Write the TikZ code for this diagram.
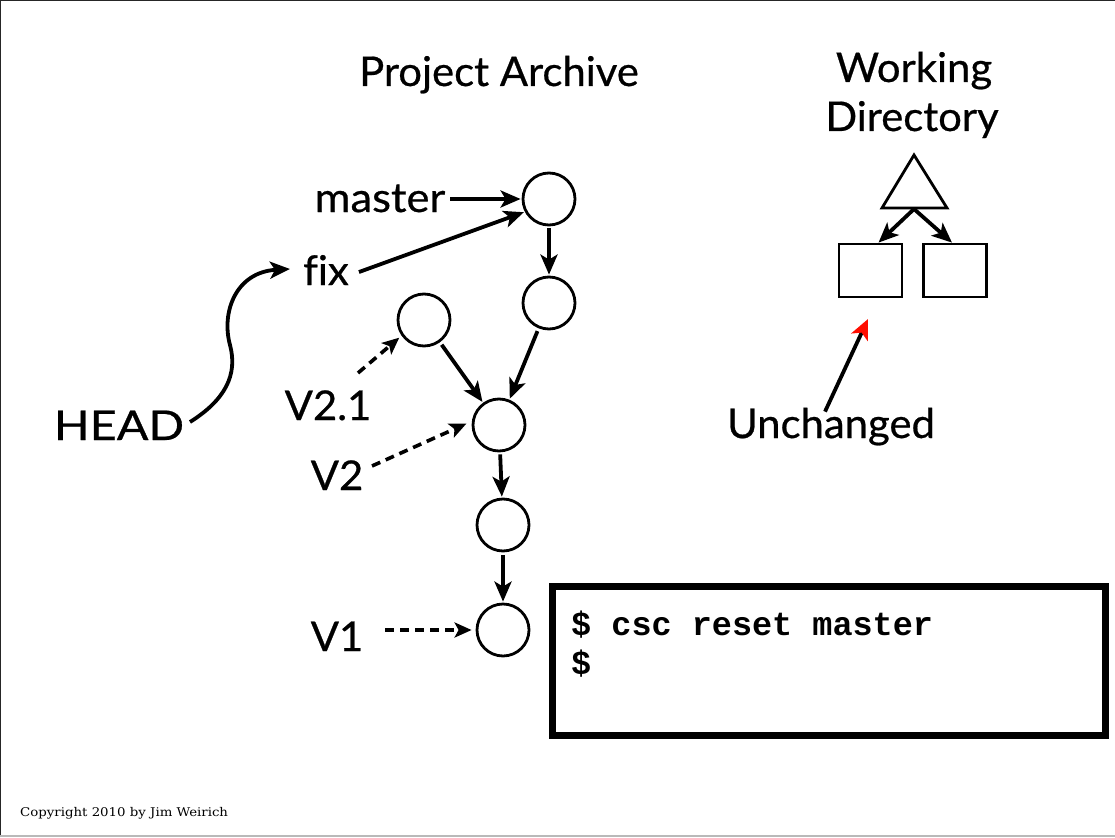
\documentclass[tikz,border=0pt]{standalone}
\usepackage{fontspec}
\setmainfont[FakeStretch=1.02,FakeBold=0.6,Ligatures=NoCommon]{Lato}
\newfontfamily\codefont{Liberation Mono}
\newfontfamily\copyfont[FakeStretch=1.11]{DejaVu Serif}
\usetikzlibrary{arrows.meta}
\begin{document}
\begin{tikzpicture}[x=1pt,y=-1pt,
  commit/.style={circle,draw,line width=2.8pt,minimum size=52pt,inner sep=0pt},
  lbl/.style={font=\fontsize{41}{48}\selectfont,inner sep=0pt,anchor=base},
  arr/.style={line width=3.8pt,-{Stealth[length=20pt,width=17pt,inset=5pt]}},
  darr/.style={line width=3.6pt,dash pattern=on 9pt off 6pt,-{Stealth[length=17pt,width=15pt,inset=4pt]}},
  filebox/.style={draw,line width=2.8pt,minimum width=63pt,minimum height=53pt,inner sep=0pt},
  codetxt/.style={font=\codefont\bfseries\fontsize{33.5}{39}\selectfont,inner sep=0pt,anchor=base west}]
\useasboundingbox (0,0) rectangle (1115,837);
% frame
\draw[black!85,line width=1.3pt] (0.65,837) -- (0.65,0.65) -- (1115,0.65);
\draw[gray!55,line width=1.6pt] (0,835.8) -- (1115,835.8);

% titles
\node[lbl] (title) at (499,86) {Project Archive};
\node[lbl] (wd1) at (914,82) {Working};
\node[lbl] (wd2) at (912,131) {Directory};

% commits
\node[commit] (c1) at (549,199) {};
\node[commit] (c2) at (549,303) {};
\node[commit] (c21) at (424,320) {};
\node[commit] (c3) at (499,425) {};
\node[commit] (c4) at (503,525) {};
\node[commit] (c5) at (503,630) {};

\draw[arr,shorten <=2pt,shorten >=1pt] (c1) -- (c2);
\draw[arr,shorten <=3pt,shorten >=1pt] (c2) -- (c3);
\draw[arr,shorten <=3pt,shorten >=1pt] (c21) -- (c3);
\draw[arr,shorten <=2pt,shorten >=1pt] (c3) -- (c4);
\draw[arr,shorten <=3pt,shorten >=1pt] (c4) -- (c5);

% labels
\node[lbl] (master) at (380,212) {\scalebox{1.04}[1]{master}};
\node[lbl] (fix) at (326,285) {fix};
\node[lbl] (head) at (119,440) {\scalebox{1.12}[1]{HEAD}};
\node[lbl] (v21) at (328,420) {V2.1};
\node[lbl] (v2) at (337,490) {V2};
\node[lbl] (v1) at (337,651) {V1};

\draw[arr,shorten <=5pt,shorten >=1pt] (master.east |- c1) -- (c1.west);
\draw[arr,shorten >=1pt] ([xshift=10pt,yshift=-2pt]fix.east) -- (c1.208);
\coordinate (headstart) at (190,422);
\draw[arr] (headstart) .. controls (225,400) and (238,375) .. (230,345)
  .. controls (221,312) and (236,272) .. (290,269);
\coordinate (v21start) at (358,373);
\draw[darr,shorten >=3pt] (v21start) -- (c21.215);
\coordinate (v2start) at (372,466);
\draw[darr,shorten >=6pt] (v2start) -- (c3.172);
\draw[darr,shorten <=22pt,shorten >=4pt] (v1.east |- c5) -- (c5.west);

% working directory
\coordinate (tA) at (914,155);
\coordinate (tB) at (947,208);
\coordinate (tC) at (882,208);
\draw[line width=2.8pt,line join=miter] (tA) -- (tB) -- (tC) -- cycle;
\coordinate (tbase) at (914,209);
\node[filebox] (f1) at (870.5,270.5) {};
\node[filebox] (f2) at (955,270.5) {};
\draw[arr] (tbase) -- ([xshift=8pt]f1.north);
\draw[arr] (tbase) -- ([xshift=-3pt]f2.north);

\node[lbl] (unch) at (831,438) {Unchanged};
\coordinate (redtip) at (868,319);
\draw[line width=3.8pt,-{Stealth[length=20pt,width=18pt,inset=5pt,red!90!orange]}] ([xshift=-6pt,yshift=-4pt]unch.north) -- (redtip);

% command box
\node[draw,line width=7pt,minimum width=553pt,minimum height=149pt,inner sep=0pt] (cmd) at (829,661) {};
\node[codetxt] (cmd1) at (571,635) {\$ csc reset master};
\node[codetxt] (cmd2) at (571,674) {\$};

% copyright
\node[font=\copyfont\fontsize{12}{14}\selectfont,anchor=base west,inner sep=0pt] (copy) at (20,816) {Copyright 2010 by Jim Weirich};
\end{tikzpicture}
\end{document}
